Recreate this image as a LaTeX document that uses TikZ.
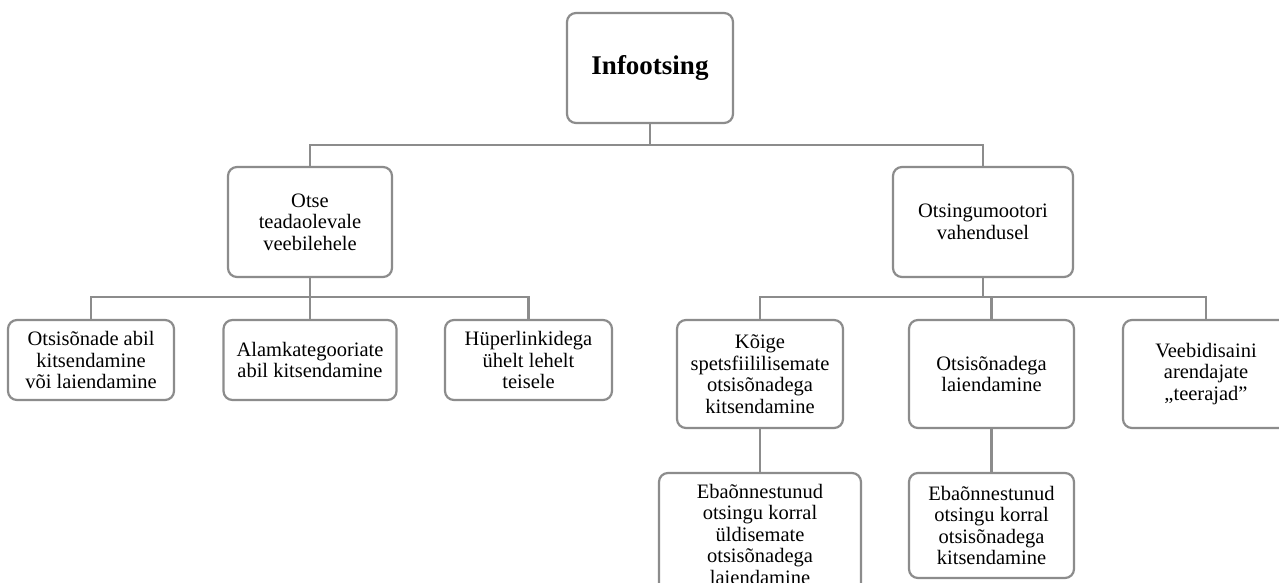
\documentclass[tikz,border=0pt]{standalone}
\usepackage{fontspec}
\setmainfont{Liberation Serif}
\definecolor{lnc}{RGB}{140,140,140}
\tikzset{
  box/.style={draw=lnc, line width=2.2pt, rounded corners=9pt, fill=white,
    align=center, inner sep=2pt, font=\fontsize{20.5}{21.5}\selectfont},
  rootbox/.style={box, font=\fontsize{27}{30}\selectfont\bfseries},
  conn/.style={draw=lnc, line width=2.2pt}
}
\begin{document}
\begin{tikzpicture}[x=1pt,y=-1pt]
\useasboundingbox (0,0) rectangle (1279,583);
\clip (0,0) rectangle (1279,583);
\fill[white] (0,0) rectangle (1279,583);
% nodes
\node[rootbox, minimum width=166pt, minimum height=110pt] (root) at (650,68) {Infootsing};
\node[box, minimum width=164pt, minimum height=110pt] (L2a) at (310,222) {Otse\\teadaolevale\\veebilehele};
\node[box, minimum width=180pt, minimum height=110pt] (L2b) at (983,222) {Otsingumootori\\vahendusel};
\node[box, minimum width=166pt, minimum height=80pt] (A1) at (91,360) {Otsisõnade abil\\kitsendamine\\või laiendamine};
\node[box, minimum width=173pt, minimum height=80pt] (A2) at (310,360) {Alamkategooriate\\abil kitsendamine};
\node[box, minimum width=167pt, minimum height=80pt] (A3) at (528.5,360) {Hüperlinkidega\\ühelt lehelt\\teisele};
\node[box, minimum width=166pt, minimum height=108pt] (B1) at (760,374) {Kõige\\spetsfiililisemate\\otsisõnadega\\kitsendamine};
\node[box, minimum width=165pt, minimum height=108pt] (B2) at (991.5,374) {Otsisõnadega\\laiendamine};
\node[box, minimum width=166pt, minimum height=108pt] (B3) at (1206,374) {Veebidisaini\\arendajate\\„teerajad"};
\node[box, minimum width=202pt, minimum height=122pt] (C1) at (760,534) {Ebaõnnestunud\\otsingu korral\\üldisemate\\otsisõnadega\\laiendamine};
\node[box, minimum width=165pt, minimum height=105pt] (C2) at (991.5,525.5) {Ebaõnnestunud\\otsingu korral\\otsisõnadega\\kitsendamine};
% bus coordinates
\coordinate (bus0) at (650,145);
\coordinate (busA) at (310,297);
\coordinate (busB) at (983,297);
% connectors
\draw[conn] (root.south) -- (bus0);
\draw[conn] (L2a.north) |- (bus0) -| (L2b.north);
\draw[conn] (L2a.south) -- (A2.north);
\draw[conn] (A1.north) |- (busA) -| (A3.north);
\draw[conn] (L2b.south) -- (busB);
\draw[conn] (B1.north) |- (busB) -| (B3.north);
\draw[conn] (B2.north) -- (B2.north |- busB);
\draw[conn] (B1.south) -- (C1.north);
\draw[conn] (B2.south) -- (C2.north);
\end{tikzpicture}
\end{document}
